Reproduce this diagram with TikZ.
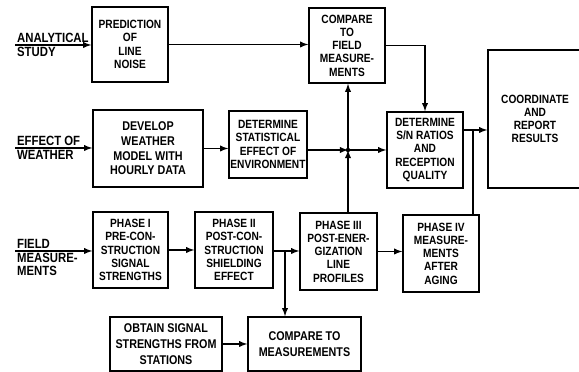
\documentclass[tikz,border=0pt]{standalone}
\usepackage{fontspec}
\setmainfont{Liberation Sans}[FakeStretch=0.85]
\usepackage{tikz}
\usetikzlibrary{shapes,arrows}
\tikzset{
	task/.style     = {draw, line width=1.1pt, rectangle, align=center,
		inner sep=1pt, font=\bfseries\fontsize{8.5}{9.4}\selectfont},
	inlabel/.style  = {inner sep=1pt, align=left,
		font=\bfseries\fontsize{9.5}{9}\selectfont},
	input/.style    = {coordinate}, % Input
	junction/.style = {coordinate} % Branch point
}
\newcommand{\jdot}{\fill (jn) circle (1.6pt)}

\begin{document}
\begin{tikzpicture}[auto, line width=1pt, >=latex, x=0.025cm, y=-0.025cm]
	\useasboundingbox (0,0) rectangle (579,372);
	\draw
	node at (130,44.5) [task, minimum width=76*0.025cm, minimum height=75*0.025cm] (pred) {PREDICTION\\OF\\LINE\\NOISE}
	node at (347,45.5) [task, minimum width=76*0.025cm, minimum height=75*0.025cm] (cmpf) {COMPARE\\TO\\FIELD\\MEASURE-\\MENTS}
	node at (148,148.5) [task, minimum width=110*0.025cm, minimum height=77*0.025cm, font=\bfseries\fontsize{9}{10.5}\selectfont] (devel) {DEVELOP\\WEATHER\\MODEL WITH\\HOURLY DATA}
	node at (268,144.5) [task, minimum width=78*0.025cm, minimum height=67*0.025cm] (stat) {DETERMINE\\STATISTICAL\\EFFECT OF\\ENVIRONMENT}
	node at (425,150) [task, minimum width=76*0.025cm, minimum height=76*0.025cm] (snr) {DETERMINE\\S/N RATIOS\\AND\\RECEPTION\\QUALITY}
	node at (535,119) [task, minimum width=94*0.025cm, minimum height=138*0.025cm] (coord) {COORDINATE\\AND\\REPORT\\RESULTS}
	node at (130.5,250) [task, minimum width=75*0.025cm, minimum height=76*0.025cm] (ph1) {PHASE I\\PRE-CON-\\STRUCTION\\SIGNAL\\STRENGTHS}
	node at (234,250) [task, minimum width=78*0.025cm, minimum height=76*0.025cm] (ph2) {PHASE II\\POST-CON-\\STRUCTION\\SHIELDING\\EFFECT}
	node at (338.5,251.5) [task, minimum width=77*0.025cm, minimum height=77*0.025cm] (ph3) {PHASE III\\POST-ENER-\\GIZATION\\LINE\\PROFILES}
	node at (441,253.5) [task, minimum width=76*0.025cm, minimum height=77*0.025cm] (ph4) {PHASE IV\\MEASURE-\\MENTS\\AFTER\\AGING}
	node at (166,344) [task, minimum width=112*0.025cm, minimum height=54*0.025cm, font=\bfseries\fontsize{9}{11.5}\selectfont] (obtain) {OBTAIN SIGNAL\\STRENGTHS FROM\\STATIONS}
	node at (304.5,344) [task, minimum width=113*0.025cm, minimum height=54*0.025cm, font=\bfseries\fontsize{9}{11.5}\selectfont] (cmpm) {COMPARE TO\\MEASUREMENTS};

	% inputs and branch points
	\coordinate[input] (inA) at (15,45);
	\coordinate[input] (inW) at (15,148);
	\coordinate[input] (inF) at (15,251);
	\coordinate[junction] (jn) at (348,150);
	\coordinate[junction] (jr) at (473,130);
	\coordinate[junction] (jb) at (285,251);

	\draw[->](inA)--node[pos=0, above right, inlabel]{ANALYTICAL}node[pos=0, below right, inlabel]{STUDY}(inA -| pred.west);
	\draw[->](inW)--node[pos=0, above right, inlabel]{EFFECT OF}node[pos=0, below right, inlabel]{WEATHER}(inW -| devel.west);
	\draw[->](inF)--node[pos=0, above right, inlabel]{FIELD}node[pos=0, below right, inlabel]{MEASURE-\\MENTS}(inF -| ph1.west);

	\draw[->](pred.east)--(pred.east -| cmpf.west);
	\draw[->](cmpf.east)-|(snr.north);
	\draw[->](devel.east)--(devel.east -| stat.west);
	\draw[->](stat.east |- jn)--(jn);
	\draw[->](jn)--(snr.west |- jn);
	\draw[->](ph3.north -| jn)--(jn);
	\draw[->](jn)--(cmpf.south -| jn);
	\jdot;
	\draw(snr.east |- jr)--(jr);
	\draw[->](jr)--(coord.west |- jr);
	\draw(ph4.north -| jr)--(jr);
	\draw[->](ph1)--(ph2);
	\draw[->](ph2.east |- jb)--(jb)--(ph3.west |- jb);
	\draw[->](jb)--(cmpm.north -| jb);
	\draw[->](ph3.east)--(ph3.east -| ph4.west);
	\draw[->](obtain)--(cmpm);
\end{tikzpicture}
\end{document}
